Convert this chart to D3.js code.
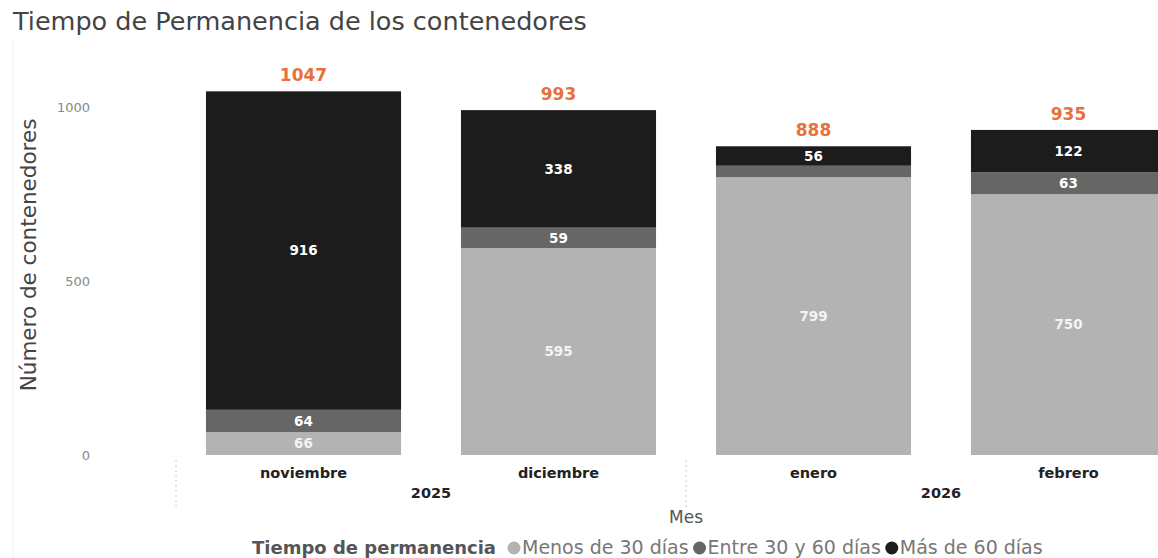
<!DOCTYPE html>
<html>
<head>
<meta charset="utf-8">
<script src="https://cdn.jsdelivr.net/npm/d3@7/dist/d3.min.js"></script>
<style>
  body { margin: 0; background: #fff; }
  svg { display: block; font-family: "DejaVu Sans", Verdana, sans-serif; }
</style>
</head>
<body>
<div id="chart"></div>
<script>
// data
const months = ['noviembre', 'diciembre', 'enero', 'febrero'];
const years = ['2025', '2025', '2026', '2026'];
const seriesNames = ['Menos de 30 días', 'Entre 30 y 60 días', 'Más de 60 días'];
const menos30 = [66, 595, 799, 750];
const entre30y60 = [64, 59, 33, 63];
const mas60 = [916, 338, 56, 122];
const totals = [1047, 993, 888, 935];
const yTicks = [0, 500, 1000];

const colors = ['#b3b3b3', '#666666', '#1c1c1c'];
const width = 1158, height = 558;

const svg = d3.select('#chart').append('svg')
  .attr('width', width).attr('height', height);

// title
svg.append('text')
  .attr('x', 13).attr('y', 30)
  .style('font-size', '25.5px').style('fill', '#444')
  .text('Tiempo de Permanencia de los contenedores');

// faint left border
svg.append('line')
  .attr('x1', 13).attr('x2', 13).attr('y1', 40).attr('y2', 558)
  .style('stroke', '#eee');

const rows = months.map((m, i) => ({
  month: m, year: years[i],
  [seriesNames[0]]: menos30[i],
  [seriesNames[1]]: entre30y60[i],
  [seriesNames[2]]: mas60[i],
  total: totals[i]
}));

const x = d3.scaleBand().domain(months).range([176, 1196])
  .paddingInner(0.235).paddingOuter(0.1175);
const y = d3.scaleLinear().domain([0, 1047]).range([455, 91]);

// y tick labels
svg.append('g').selectAll('text').data(yTicks).enter().append('text')
  .attr('x', 90).attr('y', d => y(d)).attr('dy', '0.35em')
  .style('text-anchor', 'end').style('font-size', '13px').style('fill', '#888')
  .text(d => d);

// y title
svg.append('text')
  .attr('transform', 'translate(36,255) rotate(-90)')
  .style('text-anchor', 'middle').style('font-size', '21.5px').style('fill', '#444')
  .text('Número de contenedores');

// stacked bars
const stack = d3.stack().keys(seriesNames);
const layers = stack(rows);

const layer = svg.append('g').selectAll('g').data(layers).enter().append('g')
  .style('fill', (d, i) => colors[i]);

layer.selectAll('rect').data(d => d).enter().append('rect')
  .attr('x', d => x(d.data.month))
  .attr('width', x.bandwidth())
  .attr('y', d => y(d[1]))
  .attr('height', d => y(d[0]) - y(d[1]));

// segment labels (too thin segments get none)
layers.forEach((ly, i) => {
  svg.append('g').selectAll('text').data(ly.filter(d => y(d[0]) - y(d[1]) > 14)).enter().append('text')
    .attr('x', d => x(d.data.month) + x.bandwidth() / 2)
    .attr('y', d => (y(d[0]) + y(d[1])) / 2)
    .attr('dy', '0.35em')
    .style('text-anchor', 'middle').style('font-size', '13.5px').style('font-weight', 'bold')
    .style('fill', i === 0 ? '#f4f4f4' : '#fff')
    .text(d => d[1] - d[0]);
});

// totals
svg.append('g').selectAll('text').data(rows).enter().append('text')
  .attr('x', d => x(d.month) + x.bandwidth() / 2)
  .attr('y', d => y(d.total) - 10)
  .style('text-anchor', 'middle').style('font-size', '17px').style('font-weight', 'bold')
  .style('fill', '#e8703a')
  .text(d => d.total);

// month labels
svg.append('g').selectAll('text').data(months).enter().append('text')
  .attr('x', d => x(d) + x.bandwidth() / 2).attr('y', 478)
  .style('text-anchor', 'middle').style('font-size', '14.5px').style('font-weight', 'bold')
  .style('fill', '#222')
  .text(d => d);

// year groups + dotted separators
const yearGroups = d3.groups(rows, d => d.year);
yearGroups.forEach(([yr, ms]) => {
  const first = x(ms[0].month), last = x(ms[ms.length - 1].month) + x.bandwidth();
  svg.append('text')
    .attr('x', (first + last) / 2).attr('y', 498)
    .style('text-anchor', 'middle').style('font-size', '14.5px').style('font-weight', 'bold')
    .style('fill', '#222')
    .text(yr);
  const sx = first - x.step() * x.paddingInner() / 2;
  svg.append('line')
    .attr('x1', sx).attr('x2', sx).attr('y1', 460).attr('y2', 508)
    .style('stroke', '#ccc').style('stroke-dasharray', '2,3');
});

// x title
svg.append('text')
  .attr('x', 686).attr('y', 523)
  .style('text-anchor', 'middle').style('font-size', '17px').style('fill', '#555')
  .text('Mes');

// legend
const legend = svg.append('g').attr('transform', 'translate(252,554)');
const lt = legend.append('text')
  .style('font-size', '18px').style('font-weight', 'bold').style('fill', '#555')
  .text('Tiempo de permanencia');
let lx = lt.node().getComputedTextLength() + 12;
seriesNames.forEach((s, i) => {
  legend.append('circle').attr('cx', lx + 6).attr('cy', -6).attr('r', 6.5).style('fill', colors[i]);
  const t = legend.append('text').attr('x', lx + 14)
    .style('font-size', '19px').style('fill', '#777').text(s);
  lx += 14 + t.node().getComputedTextLength() + 5;
});
</script>
</body>
</html>
